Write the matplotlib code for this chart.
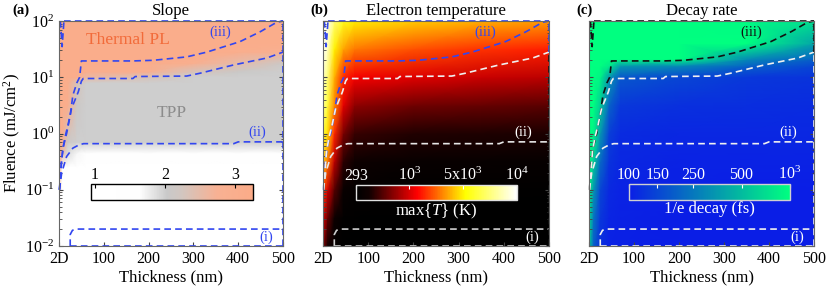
import matplotlib
matplotlib.use("Agg")
import matplotlib.pyplot as plt
import numpy as np
from matplotlib.colors import LinearSegmentedColormap, Normalize, LogNorm, FuncNorm
from matplotlib.ticker import LogLocator, NullLocator, NullFormatter

plt.rcParams['font.family'] = 'Liberation Serif'
plt.rcParams['mathtext.fontset'] = 'custom'
plt.rcParams['mathtext.rm'] = 'Liberation Serif'
plt.rcParams['mathtext.it'] = 'Liberation Serif:italic'

# ---- grids (thickness in nm, log10 fluence in mJ/cm2)
thick_a = [0, 8, 20, 40, 60, 200, 300, 400, 500]
logF_a = [-2, -1.1, -0.6, -0.35, -0.15, 0.5, 0.9, 1.0, 1.1, 1.25, 1.45, 1.6, 2]
slope = [
    [1.0, 1.0, 1.0, 1.0, 1.0, 1.0, 1.0, 1.0, 1.0],
    [1.2, 1.0, 1.0, 1.0, 1.0, 1.0, 1.0, 1.0, 1.0],
    [2.8, 1.6, 1.2, 1.1, 1.0, 1.0, 1.0, 1.0, 1.0],
    [3.0, 2.5, 1.9, 1.7, 1.6, 1.6, 1.6, 1.6, 1.6],
    [3.0, 2.9, 2.1, 2.0, 2.0, 2.0, 2.0, 2.0, 2.0],
    [3.1, 3.1, 3.0, 2.1, 2.0, 2.0, 2.0, 2.0, 2.0],
    [3.1, 3.1, 3.1, 2.3, 2.0, 2.0, 2.0, 2.0, 2.0],
    [3.1, 3.1, 3.1, 3.0, 2.6, 2.3, 2.0, 2.0, 2.0],
    [3.1, 3.1, 3.1, 3.1, 3.0, 2.9, 2.3, 2.05, 2.0],
    [3.1, 3.1, 3.1, 3.1, 3.1, 3.1, 2.9, 2.5, 2.1],
    [3.1, 3.1, 3.1, 3.1, 3.1, 3.1, 3.1, 3.0, 2.8],
    [3.1, 3.1, 3.1, 3.1, 3.1, 3.1, 3.1, 3.1, 3.1],
    [3.1, 3.1, 3.1, 3.1, 3.1, 3.1, 3.1, 3.1, 3.1],
]

thick_bc = [0, 10, 25, 45, 70, 200, 350, 500]
logF_b = [-2, -1.5, -1, -0.5, 0, 0.5, 1, 1.5, 2]
temp = [
    [700, 400, 320, 293, 293, 293, 293, 293],
    [1000, 600, 380, 310, 300, 295, 293, 293],
    [1800, 1000, 550, 350, 320, 300, 300, 300],
    [4000, 2500, 900, 450, 370, 340, 335, 330],
    [6000, 4500, 1600, 650, 480, 430, 425, 420],
    [7500, 6000, 2800, 1100, 720, 620, 590, 560],
    [8500, 7000, 3500, 1600, 1200, 1050, 950, 880],
    [9500, 8500, 5000, 3200, 2500, 2000, 1700, 1500],
    [10000, 9500, 7000, 5500, 4800, 4000, 3400, 3000],
]

logF_c = [-2, -1.5, -1, -0.5, 0, 0.5, 1, 1.2, 1.32, 1.6, 2]
decay = [
    [600, 200, 120, 105, 102, 100, 100, 100],
    [700, 250, 130, 108, 104, 100, 100, 100],
    [900, 350, 150, 112, 106, 102, 100, 100],
    [1000, 600, 220, 125, 110, 105, 105, 105],
    [1000, 900, 350, 140, 115, 110, 110, 110],
    [1000, 1000, 600, 200, 130, 120, 118, 115],
    [1000, 1000, 900, 350, 180, 150, 130, 125],
    [1000, 1000, 1000, 800, 350, 300, 200, 150],
    [1000, 1000, 1000, 1000, 1000, 1000, 300, 200],
    [1000, 1000, 1000, 1000, 1000, 1000, 1000, 400],
    [1000, 1000, 1000, 1000, 1000, 1000, 950, 700],
]

# ---- region boundaries (thickness, fluence)
line3_x = [1, 5, 10, 17, 25, 31, 40, 46, 50, 100, 165, 210, 285, 330, 404, 450, 486, 500]
line3_y = [0.1, 0.3, 0.6, 1.0, 2.1, 4.8, 8, 10, 19.5, 19.5, 19.5, 20, 23, 28, 43, 65, 95, 100]
lineB_x = [1, 8, 14, 20, 28, 36, 43, 50, 54, 165, 170, 285, 315, 389, 464, 500]
lineB_y = [0.1, 0.5, 0.9, 1.4, 2.8, 4.0, 5.5, 8.5, 9.5, 9.5, 10.3, 10.5, 11.8, 16.5, 22, 28]
line2_x = [1, 6, 17, 31, 45, 55, 390, 400, 500]
line2_y = [0.1, 0.2, 0.39, 0.55, 0.63, 0.66, 0.66, 0.71, 0.71]
line1_x = [25, 25, 30, 38, 50, 500]
line1_y = [0.01, 0.016, 0.019, 0.02, 0.02, 0.02]
zig_x = [3, 7, 11]
zig_y = [100, 35, 100]

xticks = [0, 100, 200, 300, 400, 500]
xticklabels = ['2D', '100', '200', '300', '400', '500']
yticks = [1e-2, 1e-1, 1e0, 1e1, 1e2]
yticklabels = ['10$^{-2}$', '10$^{-1}$', '10$^{0}$', '10$^{1}$', '10$^{2}$']

cmap_a = LinearSegmentedColormap.from_list('slope', [
    (0.0, '#ffffff'), (0.3, '#fefefe'), (0.47, '#c9c9c9'), (0.56, '#d2c6c0'),
    (0.78, '#f8b193'), (1.0, '#fbab88')])
cmap_b = LinearSegmentedColormap.from_list('hotc', [
    (0.0, '#000000'), (0.08, '#100000'), (0.38, '#ff0000'), (0.68, '#ffff00'), (1.0, '#ffffff')])
cmap_c = LinearSegmentedColormap.from_list('dec', [(0.0, '#0a1ee6'), (1.0, '#00ff80')])

tb_pts = np.log10([293, 1000, 5000, 10000])
tb_frac = [0.0, 0.33, 0.665, 1.0]
def t_fwd(v):
    return np.interp(np.log10(np.clip(v, 1, None)), tb_pts, tb_frac)
def t_inv(f):
    return 10 ** np.interp(f, tb_frac, tb_pts)

norm_a = Normalize(0.95, 3.25)
norm_b = FuncNorm((t_fwd, t_inv), vmin=293, vmax=10000)
norm_c = LogNorm(100, 1000)

fig = plt.figure(figsize=(8.3, 2.93), dpi=100)
H = 293.0
W = 830.0
pos = [(59, 283), (323, 549), (589, 814)]
axs = []
for l, r in pos:
    axs.append(fig.add_axes([l / W, 1 - 246 / H, (r - l) / W, 225 / H]))

blue = '#3246f0'
panels = [
    (thick_a, logF_a, slope, cmap_a, norm_a, 'Slope',
     [blue, blue, blue, blue, blue, blue]),
    (thick_bc, logF_b, temp, cmap_b, norm_b, 'Electron temperature',
     [blue, '#f0f0f0', '#e6e6e6', '#cfcfcf', blue, '#111111']),
    (thick_bc, logF_c, decay, cmap_c, norm_c, 'Decay rate',
     ['#111111', '#f0f0f0', '#f0f0f0', '#f0f0f0', '#111111', '#f0f0f0']),
]
meshes = []
dash = dict(ls=(0, (4, 2.5)), lw=1.2, clip_on=False)
for ax, (tx, lf, vals, cm, nm, title, cols) in zip(axs, panels):
    X, Y = np.meshgrid(tx, 10 ** np.array(lf))
    m = ax.pcolormesh(X, Y, np.array(vals, float), cmap=cm, norm=nm,
                      shading='gouraud', rasterized=True)
    meshes.append(m)
    ax.set_yscale('log')
    ax.set_xlim(0, 500)
    ax.set_ylim(1e-2, 1e2)
    c3, cB, c2, c1, ctop, cright = cols
    ax.plot(line3_x, line3_y, color=c3, **dash)
    ax.plot([11, 500], [100, 100], color=ctop, **dash)
    ax.plot(zig_x, zig_y, color=ctop, **dash)
    ax.plot(lineB_x, lineB_y, color=cB, **dash)
    ax.plot(line2_x, line2_y, color=c2, **dash)
    ax.plot(line1_x, line1_y, color=c1, **dash)
    ax.plot([25, 500], [0.01, 0.01], color=c1, **dash)
    ax.plot([500, 500], [28, 100], color=ctop, **dash)
    ax.plot([500, 500], [0.01, 28], color=cright, **dash)
    ax.set_title(title, fontsize=12, pad=4)
    ax.set_xticks(xticks)
    ax.set_xticklabels(xticklabels, fontsize=11.5)
    ax.set_yticks(yticks)
    ax.yaxis.set_minor_locator(LogLocator(base=10, subs=np.arange(2, 10), numticks=20))
    ax.yaxis.set_minor_formatter(NullFormatter())
    ax.tick_params(which='both', direction='in', right=True, colors='#444444', labelcolor='black')
    ax.tick_params(which='major', length=3)
    ax.tick_params(which='minor', length=1.8)
    ax.set_xlabel('Thickness (nm)', fontsize=12, labelpad=2)
    for s in ax.spines.values():
        s.set_color('#666666')
        s.set_linewidth(0.8)

axs[0].set_yticklabels(yticklabels, fontsize=11.5)
axs[0].set_ylabel('Fluence (mJ/cm$^2$)', fontsize=12, labelpad=1)
axs[1].set_yticklabels([])
axs[2].set_yticklabels([])

# region labels
lab_cols = [[blue, blue, blue], [blue, 'white', 'white'], ['#111111', 'white', 'white']]
for ax, lc in zip(axs, lab_cols):
    ax.text(360, 63, '(iii)', color=lc[0], fontsize=10.5, ha='center', va='center')
    ax.text(442, 1.07, '(ii)', color=lc[1], fontsize=10.5, ha='center', va='center')
    ax.text(463, 0.0145, '(i)', color=lc[2], fontsize=10.5, ha='center', va='center')
axs[0].text(153, 46, 'Thermal PL', color='#f26b3a', fontsize=12.5, ha='center', va='center')
axs[0].text(252, 2.3, 'TPP', color='#8c8c8c', fontsize=12.5, ha='center', va='center')

# panel letters
fig.text(12 / W, 1 - 10 / H, '(a)', fontsize=10.5, weight='bold', ha='left', va='center')
fig.text(310 / W, 1 - 10 / H, '(b)', fontsize=10.5, weight='bold', ha='left', va='center')
fig.text(576 / W, 1 - 10 / H, '(c)', fontsize=10.5, weight='bold', ha='left', va='center')

# colorbars
cb_pos = [(91, 253, 184, 200), (356, 517, 185, 200), (629, 790, 184, 200)]
cb_ticks = [[1, 2, 3], [293, 1000, 5000, 10000], [100, 150, 250, 500, 1000]]
cb_labels = [['1', '2', '3'], ['293', '10$^3$', '5x10$^3$', '10$^4$'],
             ['100', '150', '250', '500', '10$^3$']]
cb_fg = ['black', 'white', 'white']
cb_edge = ['black', '#e0e0e0', '#d0d0d0']
cb_title = [None, 'max$\\{T\\}$ (K)', '1/e decay (fs)']
for m, (l, r, t, b), tk, tl, fg, ec, ct in zip(meshes, cb_pos, cb_ticks, cb_labels, cb_fg, cb_edge, cb_title):
    cax = fig.add_axes([l / W, 1 - b / H, (r - l) / W, (b - t) / H])
    cb = fig.colorbar(m, cax=cax, orientation='horizontal')
    cb.set_ticks(tk)
    cb.set_ticklabels(tl)
    cax.xaxis.set_minor_locator(NullLocator())
    cax.xaxis.set_ticks_position('top')
    cax.tick_params(which='both', direction='in', length=3, color=fg, labelcolor=fg,
                    labelsize=11.5, pad=1)
    cb.outline.set_edgecolor(ec)
    cb.outline.set_linewidth(1.0)
    if ct:
        cax.set_xlabel(ct, color=fg, fontsize=12, labelpad=1)

fig.savefig('out.png', dpi=100)
